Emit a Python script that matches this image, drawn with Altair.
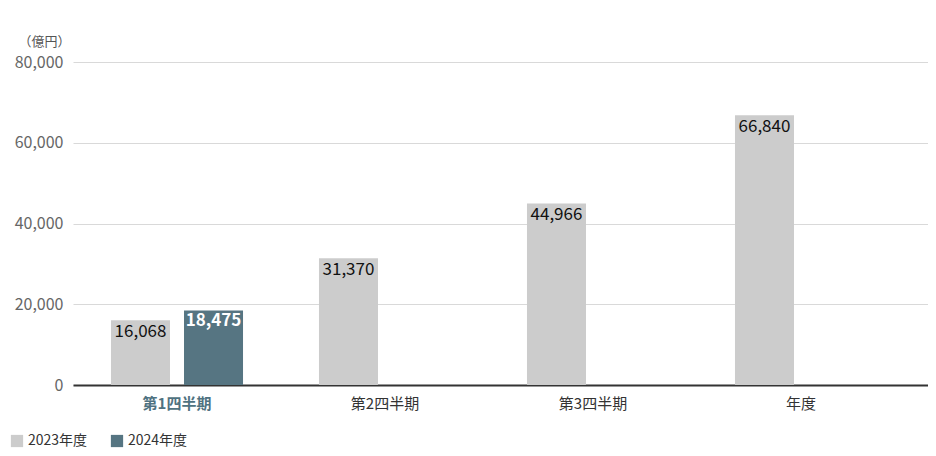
import altair as alt
import pandas as pd

categories = ["第1四半期", "第2四半期", "第3四半期", "年度"]
years = ["2023年度", "2024年度"]
values_2023 = [16068, 31370, 44966, 66840]
values_2024 = [18475, None, None, None]
colors = ["#cccccc", "#567582"]

rows = []
for c, v in zip(categories, values_2023):
    rows.append({"cat": c, "year": years[0], "value": v})
for c, v in zip(categories, values_2024):
    if v is not None:
        rows.append({"cat": c, "year": years[1], "value": v})
df = pd.DataFrame(rows)

FONT = "Noto Sans CJK JP"
LEFT = 65
W = 920 - LEFT

x_enc = alt.X(
    "cat:N",
    sort=categories,
    scale=alt.Scale(paddingInner=0, paddingOuter=0.0553, align=0),
    axis=alt.Axis(
        title=None,
        labelAngle=0,
        labelFontSize=15,
        labelPadding=11,
        ticks=False,
        domain=True,
        domainColor="#333333",
        domainWidth=2,
        labelColor={"condition": {"test": "datum.value == '第1四半期'", "value": "#4f7281"}, "value": "#333333"},
        labelFontWeight={"condition": {"test": "datum.value == '第1四半期'", "value": "bold"}, "value": "normal"},
        grid=False,
    ),
)
xoff_enc = alt.XOffset(
    "year:N", sort=years, scale=alt.Scale(paddingInner=0.192, paddingOuter=0.52)
)
y_enc = alt.Y(
    "value:Q",
    scale=alt.Scale(domain=[0, 80000], nice=False),
    axis=alt.Axis(
        values=[0, 20000, 40000, 60000, 80000],
        format=",d",
        title="（億円）",
        titleAngle=0,
        titleAlign="right",
        titleBaseline="middle",
        titleX=-3,
        titleY=-21,
        titleFontSize=13,
        titleFontWeight="normal",
        titleColor="#555555",
        labelFontSize=16,
        labelColor="#666666",
        labelPadding=10,
        ticks=False,
        domain=False,
        grid=True,
        gridColor="#d9d9d9",
        gridWidth=1,
    ),
)

base = alt.Chart(df).encode(x=x_enc, xOffset=xoff_enc, y=y_enc)

bars = base.mark_bar().encode(
    color=alt.Color(
        "year:N",
        sort=years,
        scale=alt.Scale(domain=years, range=colors),
        legend=alt.Legend(
            title=None,
            orient="none",
            legendX=-63,
            legendY=372,
            direction="horizontal",
            symbolType="square",
            symbolSize=150,
            symbolStrokeWidth=0,
            labelFontSize=14,
            labelColor="#333333",
            columnPadding=22,
            padding=0,
        ),
    )
)

text23 = base.transform_filter(alt.datum.year == years[0]).mark_text(
    baseline="middle", dy=11.5, fontSize=17, color="#111111", font=FONT
).encode(text=alt.Text("value:Q", format=",d"))

text24 = base.transform_filter(alt.datum.year == years[1]).mark_text(
    baseline="middle", dy=11, fontSize=17, fontWeight="bold", color="#ffffff", font=FONT
).encode(text=alt.Text("value:Q", format=",d"))

chart = (
    alt.layer(bars, text23, text24)
    .properties(
        width=W,
        height=323,
        autosize=alt.AutoSizeParams(type="none"),
        padding={"left": LEFT, "top": 54, "right": 0, "bottom": 63},
    )
    .configure(font=FONT)
    .configure_view(stroke=None)
)

chart.save("out.html", embed_options={"renderer": "svg", "actions": False})
